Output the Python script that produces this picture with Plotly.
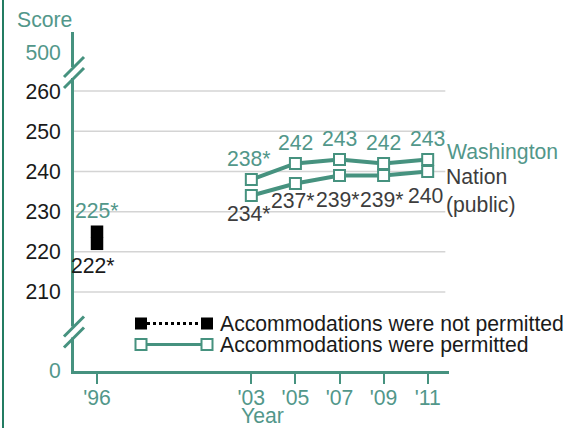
import plotly.graph_objects as go

# ---------------- data ----------------
years_permitted = [2003, 2005, 2007, 2009, 2011]
washington = [238, 242, 243, 242, 243]
washington_sig = [True, False, False, False, False]
nation = [234, 237, 239, 239, 240]
nation_sig = [True, True, True, True, False]

year_not_permitted = [1996]
washington_1996 = [225]
nation_1996 = [222]

x_tickvals = [1996, 2003, 2005, 2007, 2009, 2011]
x_ticktext = ["'96", "'03", "'05", "'07", "'09", "'11"]
grid_scores = [210, 220, 230, 240, 250, 260]

# ---------------- style ----------------
TEAL = "#46927f"
TEAL_TXT = "#52978a"
DARK = "#1a1a1a"
GRAY = "#3d3d3d"
FONT = "Liberation Sans, Arial, sans-serif"
FS = 21.2

W, H = 573, 428
ML, MR, MT, MB = 74, 124, 32, 57
PW, PH = W - ML - MR, H - MT - MB

# broken y-axis: scores 210-260 are drawn true to scale, 0 and 500 sit past the breaks
Y_ZERO_POS = 190.35
Y_500_POS = 269.7
X_RANGE = [1994.956, 2011.967]
Y_RANGE = [190.35, 274.7]


def px_x(px):
    return (px - ML) / PW


def px_y(py):
    return (H - MB - py) / PH


fig = go.Figure()

# permitted series
fig.add_trace(go.Scatter(
    x=years_permitted, y=washington, mode="lines+markers",
    line=dict(color=TEAL, width=4),
    marker=dict(symbol="square", size=11, color="white", line=dict(color=TEAL, width=2)),
    showlegend=False, hoverinfo="skip"))
fig.add_trace(go.Scatter(
    x=years_permitted, y=nation, mode="lines+markers",
    line=dict(color=TEAL, width=4),
    marker=dict(symbol="square", size=11, color="white", line=dict(color=TEAL, width=2)),
    showlegend=False, hoverinfo="skip"))
# not permitted (1996)
fig.add_trace(go.Scatter(
    x=year_not_permitted, y=washington_1996, mode="markers",
    marker=dict(symbol="square", size=12.5, color="black"),
    showlegend=False, hoverinfo="skip"))
fig.add_trace(go.Scatter(
    x=year_not_permitted, y=nation_1996, mode="markers",
    marker=dict(symbol="square", size=12.5, color="black"),
    showlegend=False, hoverinfo="skip"))

shapes = []
# gridlines (only within the true-scale part)
for g in grid_scores:
    shapes.append(dict(type="line", xref="x", yref="y", x0=X_RANGE[0], x1=2011.8, y0=g, y1=g,
                       line=dict(color="#d4d4d4", width=1.5), layer="below"))


# axis breaks
def add_break(cy_top, cy_bot):
    shapes.append(dict(type="line", xref="paper", yref="paper",
                       x0=px_x(ML), x1=px_x(ML), y0=px_y(cy_top), y1=px_y(cy_bot),
                       line=dict(color="white", width=6)))
    for cy in (cy_top, cy_bot):
        shapes.append(dict(type="line", xref="paper", yref="paper",
                           x0=px_x(ML - 10), x1=px_x(ML + 10), y0=px_y(cy + 10), y1=px_y(cy - 10),
                           line=dict(color=TEAL, width=3)))


add_break(67, 78)
add_break(326.5, 337.5)

# left page border
shapes.append(dict(type="line", xref="paper", yref="paper",
                   x0=px_x(3), x1=px_x(3), y0=px_y(H), y1=px_y(0),
                   line=dict(color="#237c62", width=2)))

# custom legend
L_X0, L_X1 = 141, 207
R1, R2 = 323.5, 344.5
shapes.append(dict(type="line", xref="paper", yref="paper",
                   x0=px_x(L_X0), x1=px_x(L_X1), y0=px_y(R1), y1=px_y(R1),
                   line=dict(color="black", width=3, dash="dot")))
shapes.append(dict(type="line", xref="paper", yref="paper",
                   x0=px_x(L_X0), x1=px_x(L_X1), y0=px_y(R2), y1=px_y(R2),
                   line=dict(color=TEAL, width=3)))
for cx in (L_X0, L_X1):
    shapes.append(dict(type="rect", xref="paper", yref="paper",
                       x0=px_x(cx - 6), x1=px_x(cx + 6), y0=px_y(R1 + 6), y1=px_y(R1 - 6),
                       fillcolor="black", line=dict(width=0)))
    shapes.append(dict(type="rect", xref="paper", yref="paper",
                       x0=px_x(cx - 5.5), x1=px_x(cx + 5.5), y0=px_y(R2 + 5.5), y1=px_y(R2 - 5.5),
                       fillcolor="white", line=dict(color=TEAL, width=2)))

annotations = []
# value labels
for yr, v, s in zip(years_permitted, washington, washington_sig):
    annotations.append(dict(x=yr, y=v, text=f"{v}{'*' if s else ''}", showarrow=False,
                            xanchor="center", yanchor="middle",
                            yshift=21, xshift=-2 if s else 0,
                            font=dict(family=FONT, size=FS, color=TEAL_TXT)))
nation_yshift = [-18, -17, -24, -24, -24]
for yr, v, s, ys in zip(years_permitted, nation, nation_sig, nation_yshift):
    annotations.append(dict(x=yr, y=v, text=f"{v}{'*' if s else ''}", showarrow=False,
                            xanchor="center", yanchor="middle",
                            yshift=ys, xshift=-2,
                            font=dict(family=FONT, size=FS, color=GRAY)))
annotations.append(dict(x=year_not_permitted[0], y=washington_1996[0], text=f"{washington_1996[0]}*",
                        showarrow=False, xanchor="center", yanchor="middle", yshift=21, xshift=0,
                        font=dict(family=FONT, size=FS, color=TEAL_TXT)))
annotations.append(dict(x=year_not_permitted[0], y=nation_1996[0], text=f"{nation_1996[0]}*",
                        showarrow=False, xanchor="center", yanchor="middle", yshift=-22, xshift=-4,
                        font=dict(family=FONT, size=FS, color=DARK)))
# series names
annotations.append(dict(x=years_permitted[-1], y=washington[-1], text="Washington", showarrow=False,
                        xanchor="left", yanchor="middle", xshift=17, yshift=7,
                        font=dict(family=FONT, size=FS, color=TEAL_TXT)))
annotations.append(dict(x=years_permitted[-1], y=nation[-1], text="Nation<br>(public)", showarrow=False,
                        xanchor="left", yanchor="middle", align="left", xshift=16, yshift=-20,
                        font=dict(family=FONT, size=FS, color=GRAY)))
# legend text
annotations.append(dict(xref="paper", yref="paper", x=px_x(218), y=px_y(R1),
                        xanchor="left", yanchor="middle",
                        text="Accommodations were not permitted", showarrow=False,
                        font=dict(family=FONT, size=FS, color=DARK)))
annotations.append(dict(xref="paper", yref="paper", x=px_x(218), y=px_y(R2),
                        xanchor="left", yanchor="middle",
                        text="Accommodations were permitted", showarrow=False,
                        font=dict(family=FONT, size=FS, color=DARK)))
# axis titles
annotations.append(dict(xref="paper", yref="paper", x=px_x(44.5), y=px_y(20),
                        xanchor="center", yanchor="middle",
                        text="Score", showarrow=False,
                        font=dict(family=FONT, size=FS, color=TEAL_TXT)))
annotations.append(dict(xref="paper", yref="paper", x=px_x(262), y=px_y(415),
                        xanchor="center", yanchor="middle",
                        text="Year", showarrow=False,
                        font=dict(family=FONT, size=FS, color=TEAL_TXT)))

y_tickvals = [Y_ZERO_POS] + grid_scores + [Y_500_POS]
y_ticktext = [f"<span style='color:{TEAL_TXT}'>0</span>"] + [str(g) for g in grid_scores] + \
             [f"<span style='color:{TEAL_TXT}'>500</span>"]

fig.update_layout(
    width=W, height=H,
    margin=dict(l=ML, r=MR, t=MT, b=MB, pad=0),
    paper_bgcolor="white", plot_bgcolor="white",
    font=dict(family=FONT, size=FS, color=DARK),
    shapes=shapes, annotations=annotations,
    xaxis=dict(range=X_RANGE, tickvals=x_tickvals, ticktext=x_ticktext,
               ticks="outside", ticklen=10, tickwidth=2, tickcolor=TEAL,
               showline=True, linewidth=3, linecolor=TEAL, showgrid=False, zeroline=False,
               ticklabelstandoff=-4,
               tickfont=dict(family=FONT, size=FS, color=TEAL_TXT)),
    yaxis=dict(range=Y_RANGE, tickvals=y_tickvals, ticktext=y_ticktext,
               ticks="", showline=True, linewidth=3, linecolor=TEAL, showgrid=False, zeroline=False,
               ticklabelstandoff=6,
               tickfont=dict(family=FONT, size=FS, color=DARK)),
)

fig.write_html("out.html", config={"displayModeBar": False},
               post_script="document.body.style.margin='0';document.body.style.overflow='hidden';")
